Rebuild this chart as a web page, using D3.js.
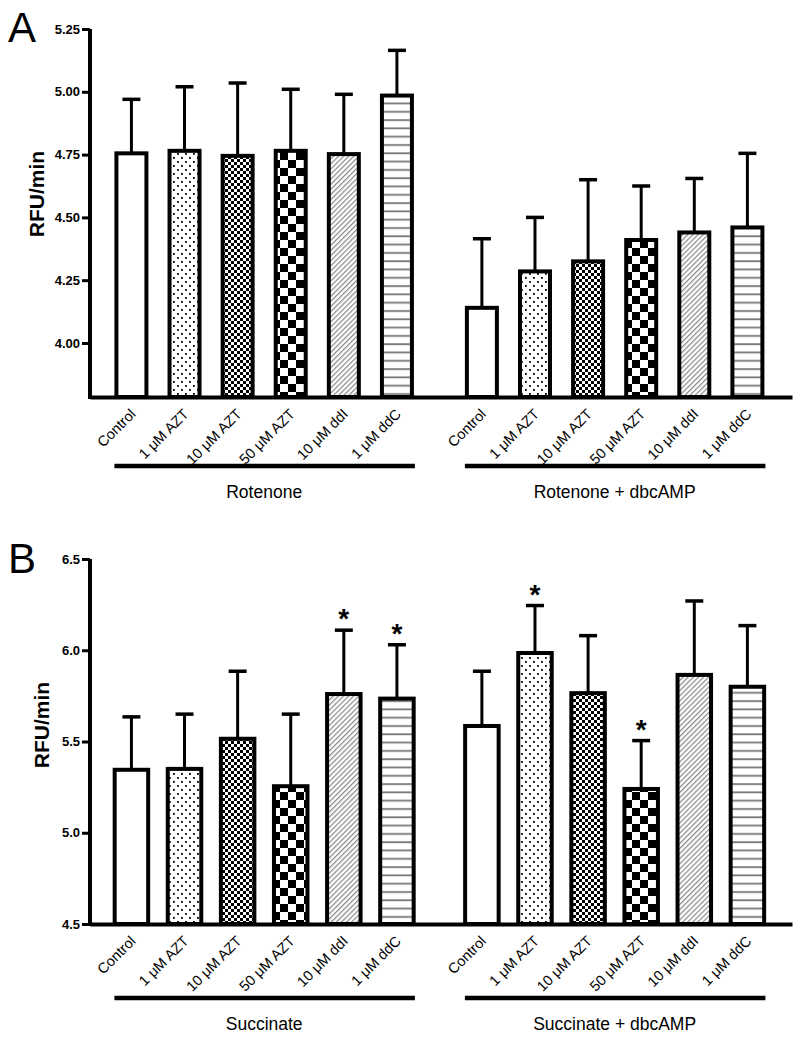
<!DOCTYPE html>
<html>
<head>
<meta charset="utf-8">
<script src="https://cdn.jsdelivr.net/npm/d3@7"></script>
<style>
  html, body { margin: 0; padding: 0; background: #fff; }
  svg { display: block; }
  text { font-family: "Liberation Sans", Arial, Helvetica, sans-serif; fill: #000; }
</style>
</head>
<body>
<script>
// ---------------- DATA ----------------
const categories = ["Control", "1 \u03BCM AZT", "10 \u03BCM AZT", "50 \u03BCM AZT", "10 \u03BCM ddI", "1 \u03BCM ddC"];
const patternIds = ["none", "dots", "fineCheck", "coarseCheck", "diag", "horiz"];

// Panel A
const groupsA = ["Rotenone", "Rotenone + dbcAMP"];
const meanA_rot  = [4.755, 4.765, 4.745, 4.765, 4.752, 4.985];
const upperA_rot = [4.970, 5.020, 5.035, 5.010, 4.990, 5.165];
const meanA_dbc  = [4.140, 4.285, 4.325, 4.410, 4.440, 4.460];
const upperA_dbc = [4.415, 4.500, 4.650, 4.625, 4.655, 4.755];
const starsA_rot = [];
const starsA_dbc = [];
const ticksA = [4.00, 4.25, 4.50, 4.75, 5.00, 5.25];
const domainA = [3.785, 5.25];

// Panel B
const groupsB = ["Succinate", "Succinate + dbcAMP"];
const meanB_suc  = [5.345, 5.350, 5.515, 5.255, 5.760, 5.735];
const upperB_suc = [5.635, 5.650, 5.885, 5.650, 6.110, 6.030];
const meanB_dbc  = [5.585, 5.985, 5.765, 5.240, 5.865, 5.800];
const upperB_dbc = [5.885, 6.245, 6.080, 5.505, 6.270, 6.135];
const starsB_suc = [4, 5];
const starsB_dbc = [1, 3];
const ticksB = [4.5, 5.0, 5.5, 6.0, 6.5];
const domainB = [4.5, 6.5];

const yLabel = "RFU/min";

// ---------------- SETUP ----------------
const W = 800, H = 1046;
const svg = d3.select("body").append("svg").attr("width", W).attr("height", H);
const defs = svg.append("defs");

// patterns
function pat(id, w, h, transform) {
  const p = defs.append("pattern").attr("id", id).attr("patternUnits", "userSpaceOnUse")
    .attr("width", w).attr("height", h);
  if (transform) p.attr("patternTransform", transform);
  p.append("rect").attr("width", w).attr("height", h).attr("fill", "#fff");
  return p;
}
let p;
p = pat("dots", 8, 8);
p.append("rect").attr("x", 1).attr("y", 1).attr("width", 1.8).attr("height", 1.8).attr("fill", "#000");
p.append("rect").attr("x", 5).attr("y", 5).attr("width", 1.8).attr("height", 1.8).attr("fill", "#000");
p = pat("fineCheck", 6, 6);
p.append("rect").attr("x", 0).attr("y", 0).attr("width", 3).attr("height", 3).attr("fill", "#000");
p.append("rect").attr("x", 3).attr("y", 3).attr("width", 3).attr("height", 3).attr("fill", "#000");
p = pat("coarseCheck", 16, 16);
p.append("rect").attr("x", 0).attr("y", 0).attr("width", 8).attr("height", 8).attr("fill", "#000");
p.append("rect").attr("x", 8).attr("y", 8).attr("width", 8).attr("height", 8).attr("fill", "#000");
p = pat("diag", 3.6, 10, "rotate(45)");
p.append("rect").attr("x", 0).attr("y", 0).attr("width", 1.2).attr("height", 10).attr("fill", "#888");
p = pat("horiz", 10, 8.3);
p.append("rect").attr("x", 0).attr("y", 3).attr("width", 10).attr("height", 1.8).attr("fill", "#777");

const fillFor = id => id === "none" ? "#fff" : `url(#${id})`;

// x positions: slot index (left group 0..5, right group 6.6..11.6)
const x = d3.scaleLinear().domain([-0.78, 12.44]).range([90, 792]);
const rightOffset = 6.6;

function drawPanel(cfg) {
  const g = svg.append("g");
  const y = d3.scaleLinear().domain(cfg.domain).range([cfg.yBottom, cfg.yTop]);

  // panel letter
  g.append("text").attr("x", 8).attr("y", cfg.letterY).attr("font-size", 42).text(cfg.letter);

  // y label
  g.append("text")
    .attr("transform", `translate(${cfg.yLabelX},${cfg.yLabelY}) rotate(-90)`)
    .attr("text-anchor", "middle").attr("font-size", 21).attr("font-weight", "bold")
    .text(yLabel);

  const series = [
    { mean: cfg.m1, up: cfg.u1, stars: cfg.s1, off: 0, group: cfg.groups[0] },
    { mean: cfg.m2, up: cfg.u2, stars: cfg.s2, off: rightOffset, group: cfg.groups[1] }
  ];

  series.forEach(s => {
    const data = categories.map((c, i) => ({ c, i, v: s.mean[i], u: s.up[i], star: s.stars.includes(i), pos: s.off + i }));
    // error bars
    g.selectAll(null).data(data).enter().append("line")
      .attr("x1", d => x(d.pos)).attr("x2", d => x(d.pos))
      .attr("y1", d => y(d.v)).attr("y2", d => y(d.u))
      .attr("stroke", "#000").attr("stroke-width", 3);
    g.selectAll(null).data(data).enter().append("line")
      .attr("x1", d => x(d.pos) - 9).attr("x2", d => x(d.pos) + 9)
      .attr("y1", d => y(d.u)).attr("y2", d => y(d.u))
      .attr("stroke", "#000").attr("stroke-width", 3.5);
    // bars
    g.selectAll(null).data(data).enter().append("rect")
      .attr("x", d => x(d.pos) - cfg.barW / 2)
      .attr("width", cfg.barW)
      .attr("y", d => y(d.v))
      .attr("height", d => cfg.yBottom - y(d.v))
      .attr("fill", d => fillFor(patternIds[d.i]))
      .attr("stroke", "#000").attr("stroke-width", 4);
    // stars
    g.selectAll(null).data(data.filter(d => d.star)).enter().append("text")
      .attr("x", d => x(d.pos)).attr("y", d => y(d.u) - 2)
      .attr("text-anchor", "middle").attr("font-size", 28).attr("font-weight", "bold")
      .text("*");
    // category labels
    g.selectAll(null).data(data).enter().append("text")
      .attr("transform", d => `translate(${x(d.pos) + 5},${cfg.yBottom + 18}) rotate(-45)`)
      .attr("text-anchor", "end").attr("font-size", 14.5)
      .text(d => d.c);
    // group underline
    g.append("line")
      .attr("x1", x(s.off) - 17).attr("x2", x(s.off + 5) + 18)
      .attr("y1", cfg.yBottom + cfg.ulOff).attr("y2", cfg.yBottom + cfg.ulOff)
      .attr("stroke", "#000").attr("stroke-width", 4.5);
    g.append("text")
      .attr("x", (x(s.off) + x(s.off + 5)) / 2)
      .attr("y", cfg.yBottom + cfg.ulOff + 32)
      .attr("text-anchor", "middle").attr("font-size", 17.5)
      .text(s.group);
  });

  // x axis (baseline)
  const xAxis = g.append("g").attr("transform", `translate(0,${cfg.yBottom})`)
    .call(d3.axisBottom(x).tickValues([]).tickSizeOuter(0));
  xAxis.select(".domain").attr("stroke", "#000").attr("stroke-width", 4);

  // y axis
  const yAxis = g.append("g").attr("transform", `translate(90,0)`)
    .call(d3.axisLeft(y).tickValues(cfg.ticks).tickFormat(d3.format(cfg.fmt)).tickSize(8).tickSizeOuter(0).tickPadding(2));
  yAxis.select(".domain").attr("stroke", "#000").attr("stroke-width", 4)
    .attr("d", `M0,${cfg.yBottom + 2}V${cfg.yTop}`);
  yAxis.selectAll(".tick line").attr("stroke", "#000").attr("stroke-width", 3);
  yAxis.selectAll(".tick text").attr("font-size", 13).attr("font-weight", "bold")
    .attr("font-family", "'Liberation Sans', Arial, sans-serif").attr("fill", "#000");
}

drawPanel({
  letter: "A", letterY: 42, domain: domainA, yTop: 29, yBottom: 397,
  ticks: ticksA, fmt: ".2f", barW: 30,
  m1: meanA_rot, u1: upperA_rot, s1: starsA_rot,
  m2: meanA_dbc, u2: upperA_dbc, s2: starsA_dbc,
  groups: groupsA, ulOff: 69, yLabelX: 44, yLabelY: 194
});

drawPanel({
  letter: "B", letterY: 573, domain: domainB, yTop: 559, yBottom: 924,
  ticks: ticksB, fmt: ".1f", barW: 33.5,
  m1: meanB_suc, u1: upperB_suc, s1: starsB_suc,
  m2: meanB_dbc, u2: upperB_dbc, s2: starsB_dbc,
  groups: groupsB, ulOff: 74, yLabelX: 49, yLabelY: 725
});
</script>
</body>
</html>
